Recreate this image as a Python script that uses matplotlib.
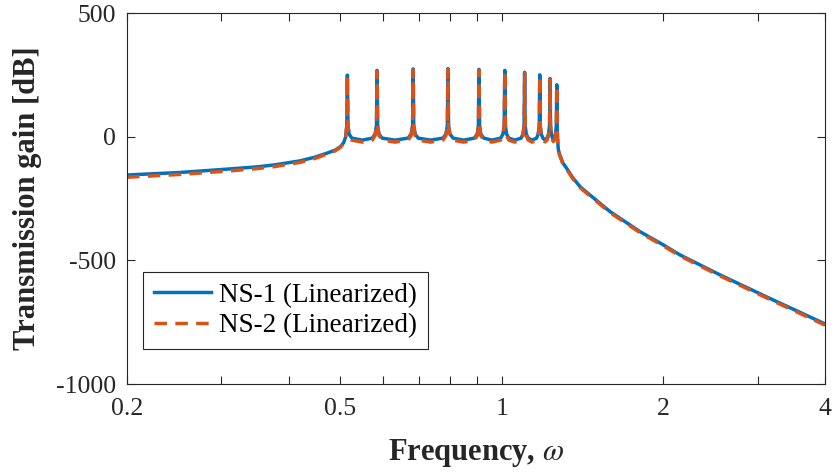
import matplotlib
matplotlib.use("Agg")
import matplotlib.pyplot as plt
from matplotlib.ticker import FixedLocator, FixedFormatter, NullLocator

plt.rcParams['font.family'] = ['Liberation Serif', 'DejaVu Serif']
plt.rcParams['mathtext.fontset'] = 'stix'
plt.rcParams['axes.unicode_minus'] = False

# Frequency samples
freq = [0.2, 0.25, 0.304, 0.35, 0.377, 0.42, 0.448, 0.47, 0.489, 0.50, 0.507, 0.511,
        0.5137, 0.515, 0.5163, 0.519, 0.525, 0.549, 0.573, 0.580,
        0.5835, 0.585, 0.5865, 0.590, 0.598, 0.632, 0.668, 0.677,
        0.6813, 0.683, 0.6847, 0.689, 0.698, 0.736, 0.776, 0.786,
        0.7910, 0.793, 0.7950, 0.800, 0.811, 0.848, 0.888, 0.899,
        0.9037, 0.906, 0.9083, 0.913, 0.925, 0.958, 0.994, 1.004,
        1.0095, 1.012, 1.0145, 1.020, 1.030, 1.056, 1.085, 1.094,
        1.0995, 1.102, 1.1045, 1.110, 1.119, 1.138, 1.160, 1.168,
        1.1735, 1.176, 1.1785, 1.184, 1.192, 1.202, 1.213, 1.221,
        1.2265, 1.229, 1.2315, 1.236, 1.242, 1.247, 1.252, 1.258,
        1.2628, 1.265, 1.2668, 1.269, 1.272, 1.274, 1.28, 1.299, 1.32,
        1.356, 1.398, 1.459, 1.59, 1.808, 2.0, 2.146, 2.55, 3.2, 4.0]

gain_ns1 = [-155, -145, -132, -122, -114, -98, -83, -68, -54, -40, -24, -2,
            45, 249, 45, 10, -6, -14, -6, 10,
            45, 268, 45, 10, -6, -14, -6, 10,
            45, 274, 45, 10, -6, -14, -6, 10,
            45, 275, 45, 10, -6, -14, -6, 10,
            45, 272, 45, 10, -6, -14, -6, 10,
            45, 268, 45, 10, -6, -14, -6, 10,
            45, 260, 45, 10, -6, -14, -6, 10,
            45, 250, 45, 10, -6, -13, -6, 10,
            45, 235, 45, 10, -6, -12, -6, 10,
            45, 210, 45, 0, -40, -54, -70, -107, -128,
            -167, -202, -236, -303, -384, -438, -478, -559, -660, -757]

gain_ns2 = [-164, -153, -140, -129, -121, -104, -88, -72, -57, -43, -27, -6,
            40, 245, 40, 4, -14, -22, -14, 4,
            40, 264, 40, 4, -14, -22, -14, 4,
            40, 270, 40, 4, -14, -22, -14, 4,
            40, 271, 40, 4, -14, -22, -14, 4,
            40, 268, 40, 4, -14, -22, -14, 4,
            40, 264, 40, 4, -14, -22, -14, 4,
            40, 256, 40, 4, -14, -22, -14, 4,
            40, 246, 40, 4, -14, -21, -14, 4,
            40, 231, 40, 4, -14, -20, -14, 4,
            40, 206, 40, -4, -44, -58, -74, -111, -132,
            -171, -206, -240, -307, -388, -442, -482, -563, -664, -762]

series_labels = ['NS-1 (Linearized)', 'NS-2 (Linearized)']
xtick_vals = [0.2, 0.3, 0.4, 0.5, 0.6, 0.7, 0.8, 0.9, 1, 2, 3, 4]
xtick_labels = ['0.2', '', '', '0.5', '', '', '', '', '1', '2', '', '4']
ytick_vals = [-1000, -500, 0, 500]
ytick_labels = ['-1000', '-500', '0', '500']

fig = plt.figure(figsize=(8.35, 4.72), dpi=100)
ax = fig.add_axes([127/835, 1 - 384/472, 698/835, 371/472])

ax.plot(freq, gain_ns1, color='#0072BD', lw=2.5, ls='-', label=series_labels[0])
ax.plot(freq, gain_ns2, color='#D95319', lw=2.5, ls=(0, (3.6, 2.4)), label=series_labels[1])

ax.set_xscale('log')
ax.set_xlim(0.2, 4)
ax.set_ylim(-1000, 500)
ax.xaxis.set_major_locator(FixedLocator(xtick_vals))
ax.xaxis.set_major_formatter(FixedFormatter(xtick_labels))
ax.xaxis.set_minor_locator(NullLocator())
ax.yaxis.set_major_locator(FixedLocator(ytick_vals))
ax.yaxis.set_major_formatter(FixedFormatter(ytick_labels))

axcol = '#262626'
for sp in ax.spines.values():
    sp.set_color(axcol)
    sp.set_linewidth(0.8)
ax.tick_params(axis='both', which='both', direction='in', top=True, right=True,
               length=6, width=0.8, color=axcol, labelsize=18.5, labelcolor=axcol)
ax.tick_params(axis='x', pad=10)
ax.tick_params(axis='y', pad=8)

ax.set_xlabel(r'Frequency, $\omega$', fontsize=22, fontweight='bold', color=axcol, labelpad=12)
ax.set_ylabel('Transmission gain [dB]', fontsize=22, fontweight='bold', color=axcol, labelpad=10)

leg = ax.legend(loc='lower left', bbox_to_anchor=(0.023, 0.094), borderaxespad=0,
                fontsize=19.5, frameon=True, fancybox=False, framealpha=1,
                edgecolor=axcol, handlelength=2.1, handletextpad=0.3,
                borderpad=0.4, labelspacing=0.2)
leg.get_frame().set_linewidth(0.8)

fig.savefig('out.png', dpi=100)
